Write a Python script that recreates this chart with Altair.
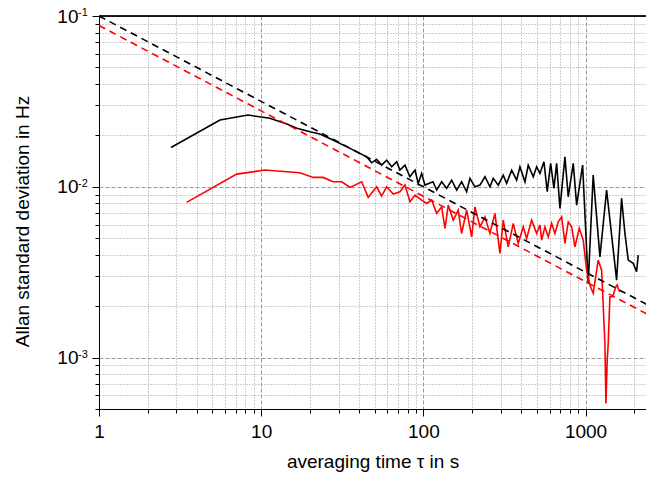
import altair as alt
import pandas as pd

# ---- data ----
black_tau = [2.78, 5.57, 8.29, 11.3, 14.4, 16.6, 20.0, 23.0, 27.7, 35.3, 44.7, 48.0, 51.5, 55.3, 59.4,
             63.8, 68.5, 71.7, 77.0, 82.7, 88.8, 93.0, 97.6, 102.3, 114.6, 120.8, 129.7, 139.2, 149.5,
             160.5, 172.2, 184.9, 193.8, 208.0, 223.4, 239.8, 257.4, 269.8, 289.6, 310.9, 326.3, 350.4,
             376.1, 394.1, 423.1, 443.4, 476.1, 499.6, 523.6, 554.1, 580.7, 609.4, 638.7, 663.6, 695.5,
             746.5, 782.4, 840.2, 881.6, 959.6, 1039, 1115, 1227, 1349, 1555, 1669, 1750, 1834, 1968,
             2065, 2113]
black_sigma = [0.0170, 0.0246, 0.0263, 0.0252, 0.0233, 0.0220, 0.0210, 0.02036, 0.01877, 0.01679,
               0.01498, 0.01382, 0.01447, 0.01340, 0.01433, 0.01310, 0.01401, 0.01252, 0.01340,
               0.01145, 0.01252, 0.01047, 0.01198, 0.01023, 0.01070, 0.00956, 0.01070, 0.00979,
               0.01094, 0.00956, 0.01070, 0.00935, 0.01120, 0.01000, 0.01023, 0.01145, 0.01000,
               0.01120, 0.01023, 0.01171, 0.01047, 0.01252, 0.01094, 0.01310, 0.01070, 0.01340,
               0.01145, 0.01310, 0.01198, 0.01401, 0.00935, 0.01371, 0.00979, 0.01371, 0.00747,
               0.01498, 0.00874, 0.01371, 0.00781, 0.01340, 0.00272, 0.01171, 0.00389, 0.00956,
               0.00284, 0.00855, 0.00533, 0.00372, 0.00356, 0.00318, 0.00398]

red_tau = [3.47, 7.06, 10.56, 17.3, 20.96, 24.1, 27.8, 31.4, 35.3, 41.7, 45.7, 51.5, 55.3, 59.4, 65.2,
           71.7, 77.0, 82.7, 88.8, 97.6, 104.8, 112.5, 120.8, 129.7, 135.9, 142.4, 152.9, 164.1, 172.2,
           184.9, 198.6, 208.0, 223.4, 239.8, 257.4, 276.3, 296.7, 310.9, 333.8, 358.4, 384.7, 413.0,
           433.5, 465.4, 499.6, 523.6, 536.3, 561.9, 588.8, 618.0, 647.7, 678.8, 712.3, 746.5, 782.4,
           821.1, 860.4, 914.5, 967.9, 1016, 1064, 1115, 1197, 1257, 1317, 1336, 1361, 1380, 1414,
           1469, 1539, 1568, 1600, 1630]
red_sigma = [0.00811, 0.01186, 0.01253, 0.01208, 0.01135, 0.01135, 0.01070, 0.01070, 0.00992, 0.01070,
             0.00867, 0.01000, 0.00882, 0.01000, 0.00906, 0.00935, 0.01023, 0.00817, 0.00894, 0.00836,
             0.00799, 0.00836, 0.00699, 0.00763, 0.00571, 0.00781, 0.00638, 0.00730, 0.00533, 0.00730,
             0.00509, 0.00763, 0.00583, 0.00667, 0.00533, 0.00699, 0.00407, 0.00638, 0.00445, 0.00611,
             0.00466, 0.00583, 0.00498, 0.00638, 0.00533, 0.00597, 0.00487, 0.00583, 0.00509, 0.00611,
             0.00533, 0.00624, 0.00667, 0.00466, 0.00624, 0.00583, 0.00445, 0.00571, 0.00487, 0.00325,
             0.00266, 0.00238, 0.00372, 0.00325, 0.00121, 0.000538, 0.000966, 0.00121, 0.00227,
             0.00227, 0.00260, 0.00266, 0.00250, 0.00243]

fit_tau = [1, 2700]
black_fit = [0.1, 0.001925]
red_fit = [0.088, 0.001694]

x_ticks = [1, 2, 3, 4, 5, 6, 7, 8, 9, 10, 20, 30, 40, 50, 60, 70, 80, 90,
           100, 200, 300, 400, 500, 600, 700, 800, 900, 1000, 2000]
y_ticks = [0.0005, 0.0006, 0.0007, 0.0008, 0.0009,
           0.001, 0.002, 0.003, 0.004, 0.005, 0.006, 0.007, 0.008, 0.009,
           0.01, 0.02, 0.03, 0.04, 0.05, 0.06, 0.07, 0.08, 0.09, 0.1]
y_decades = [0.1, 0.01, 0.001]
y_exponents = ["-1", "-2", "-3"]

x_domain = [1, 2360]
y_domain = [0.0005, 0.1]

FONT = "Liberation Sans"
DEC = "abs(log(datum.value)/LN10 - round(log(datum.value)/LN10)) < 0.001"
GRID_COLOR = "#9a9a9a"

x_axis = alt.Axis(
    values=x_ticks, grid=True,
    gridColor=GRID_COLOR, gridWidth=1,
    gridDash={"condition": {"test": DEC, "value": [4, 2]}, "value": [1, 2]},
    tickSize={"condition": {"test": DEC, "value": 7}, "value": 4},
    tickColor="black", domainColor="black",
    labelExpr=f"({DEC}) ? format(datum.value, 'd') : ''",
    labelFont=FONT, labelFontSize=19, labelColor="black", labelPadding=6,
    labelFlush=False, labelOverlap=False,
    title="averaging time τ in s", titleFont=FONT, titleFontSize=19,
    titleFontWeight="normal", titleColor="black", titleY=58, titleBaseline="alphabetic",
)
y_axis = alt.Axis(
    values=y_ticks, grid=True,
    gridColor=GRID_COLOR, gridWidth=1,
    gridDash={"condition": {"test": DEC, "value": [4, 2]}, "value": [1, 2]},
    tickSize={"condition": {"test": DEC, "value": 7}, "value": 4},
    tickColor="black", domainColor="black",
    labelExpr=f"({DEC}) ? '10' : ''",
    labelFont=FONT, labelFontSize=19, labelColor="black", labelPadding=14,
    labelFlush=False, labelOverlap=False,
    title="Allan standard deviation in Hz", titleFont=FONT, titleFontSize=19,
    titleFontWeight="normal", titleColor="black", titleX=-77, titleY=205,
    titleAngle=-90, titleBaseline="middle", titleAlign="center",
)

xs = alt.Scale(type="log", domain=x_domain, nice=False)
ys = alt.Scale(type="log", domain=y_domain, nice=False)
x_enc = alt.X("tau:Q", scale=xs, axis=x_axis)
y_enc = alt.Y("sigma:Q", scale=ys, axis=y_axis)

df_black = pd.DataFrame({"tau": black_tau, "sigma": black_sigma})
df_red = pd.DataFrame({"tau": red_tau, "sigma": red_sigma})
df_bfit = pd.DataFrame({"tau": fit_tau, "sigma": black_fit})
df_rfit = pd.DataFrame({"tau": fit_tau, "sigma": red_fit})
df_exp = pd.DataFrame({"sigma": y_decades, "exp": y_exponents})

black_line = alt.Chart(df_black).mark_line(color="black", strokeWidth=1.6).encode(x=x_enc, y=y_enc)
red_line = alt.Chart(df_red).mark_line(color="#ff0000", strokeWidth=1.6).encode(x=x_enc, y=y_enc)
bfit = alt.Chart(df_bfit).mark_line(color="black", strokeWidth=1.6, strokeDash=[7, 5], clip=True).encode(x=x_enc, y=y_enc)
rfit = alt.Chart(df_rfit).mark_line(color="#ff0000", strokeWidth=1.6, strokeDash=[7, 5], clip=True).encode(x=x_enc, y=y_enc)

exps = alt.Chart(df_exp).mark_text(
    font=FONT, fontSize=11, align="left", baseline="alphabetic", color="black"
).encode(x=alt.value(-21), y=alt.Y("sigma:Q", scale=ys, axis=y_axis), text="exp:N")

top_line = alt.Chart(df_exp).mark_rule(color="black", strokeWidth=1).encode(
    x=alt.value(0), x2=alt.value(547), y=alt.value(0)
)

chart = alt.layer(black_line, red_line, bfit, rfit, exps, top_line).properties(
    width=547, height=393,
    padding={"left": 91, "top": 8, "right": 0, "bottom": 64},
    autosize=alt.AutoSizeParams(type="none"),
).configure_view(stroke=None).configure(background="white")

chart.save("out.html", embed_options={"renderer": "svg", "actions": False})
